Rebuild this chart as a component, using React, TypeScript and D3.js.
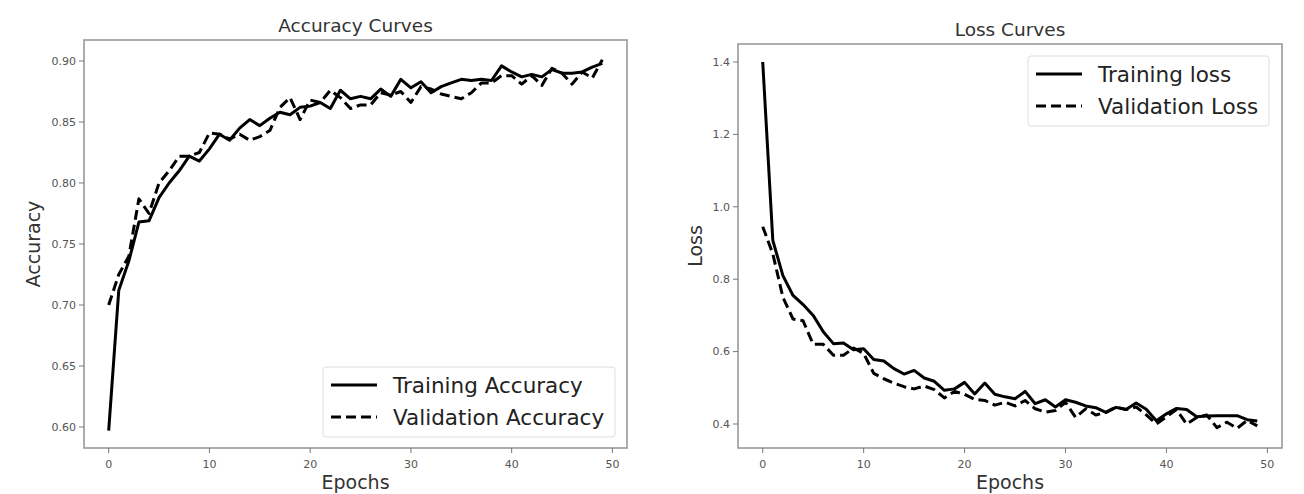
import React from "react";
import * as d3 from "d3";

// epochs 0..49
const epochs = d3.range(50);

const trainAcc = [
  0.597, 0.712, 0.736, 0.768, 0.769, 0.788, 0.8, 0.81, 0.822, 0.818,
  0.828, 0.84, 0.835, 0.845, 0.852, 0.847, 0.853, 0.858, 0.856, 0.862,
  0.863, 0.866, 0.861, 0.876, 0.869, 0.871, 0.869, 0.877, 0.871, 0.885,
  0.878, 0.883, 0.874, 0.879, 0.882, 0.885, 0.884, 0.885, 0.884, 0.896,
  0.891, 0.887, 0.889, 0.887, 0.893, 0.89, 0.89, 0.891, 0.895, 0.898,
];
const valAcc = [
  0.7, 0.725, 0.74, 0.787, 0.775, 0.8, 0.81, 0.822, 0.822, 0.825,
  0.841, 0.84, 0.836, 0.84, 0.835, 0.838, 0.843, 0.862, 0.87, 0.852,
  0.868, 0.866, 0.876, 0.87, 0.861, 0.864, 0.864, 0.874, 0.872, 0.875,
  0.866, 0.879, 0.877, 0.873, 0.871, 0.869, 0.874, 0.882, 0.882, 0.888,
  0.888, 0.881, 0.888, 0.88, 0.894, 0.89, 0.881, 0.891, 0.886, 0.901,
];
const trainLoss = [
  1.4, 0.907, 0.81, 0.755, 0.73, 0.7, 0.655, 0.622, 0.624, 0.605,
  0.608, 0.578, 0.574, 0.553, 0.538, 0.548, 0.527, 0.518, 0.493, 0.497,
  0.515, 0.483, 0.513, 0.482, 0.475, 0.47, 0.49, 0.456, 0.467, 0.447,
  0.467, 0.46, 0.45, 0.445, 0.432, 0.446, 0.44, 0.458, 0.441, 0.409,
  0.428, 0.443, 0.44, 0.42, 0.422, 0.423, 0.423, 0.423, 0.412, 0.408,
];
const valLoss = [
  0.945, 0.87, 0.75, 0.69, 0.685, 0.62, 0.62, 0.59, 0.59, 0.61,
  0.595, 0.54, 0.525, 0.513, 0.503, 0.497, 0.505, 0.495, 0.472, 0.49,
  0.482, 0.468, 0.465, 0.452, 0.46, 0.45, 0.465, 0.442, 0.433, 0.437,
  0.46, 0.418, 0.442, 0.425, 0.432, 0.447, 0.44, 0.447, 0.425, 0.4,
  0.42, 0.44, 0.4, 0.418, 0.425, 0.39, 0.405, 0.388, 0.41, 0.395,
];

const xTicks = [0, 10, 20, 30, 40, 50];
const accTicks = [0.6, 0.65, 0.7, 0.75, 0.8, 0.85, 0.9];
const lossTicks = [0.4, 0.6, 0.8, 1.0, 1.2, 1.4];

const FONT = "DejaVu Sans, sans-serif";

type Series = { label: string; values: number[]; dashed: boolean };

type PanelProps = {
  left: number;
  top: number;
  width: number;
  height: number;
  yDomain: [number, number];
  yTicks: number[];
  yFormat: (v: number) => string;
  title: string;
  yLabel: string;
  yLabelOffset: number;
  series: Series[];
  legend: { x: number; y: number; w: number; h: number };
};

function Panel(p: PanelProps) {
  const x = d3.scaleLinear().domain([-2.45, 51.45]).range([p.left, p.left + p.width]);
  const y = d3.scaleLinear().domain(p.yDomain).range([p.top + p.height, p.top]);
  const line = d3
    .line<number>()
    .x((d, i) => x(epochs[i]))
    .y((d) => y(d));
  const bottom = p.top + p.height;
  const cx = p.left + p.width / 2;

  return (
    <g>
      <text x={cx} y={p.top - 8} textAnchor="middle" fontSize={18.5} fill="#333">
        {p.title}
      </text>
      {p.series.map((s) => (
        <path
          key={s.label}
          d={line(s.values) || ""}
          fill="none"
          stroke="#000"
          strokeWidth={3}
          strokeLinejoin="round"
          strokeDasharray={s.dashed ? "10,5" : undefined}
        />
      ))}
      <rect
        x={p.left}
        y={p.top}
        width={p.width}
        height={p.height}
        fill="none"
        stroke="#999"
        strokeWidth={1.6}
      />
      {xTicks.map((t) => (
        <g key={t}>
          <line x1={x(t)} x2={x(t)} y1={bottom} y2={bottom + 5} stroke="#777" />
          <text x={x(t)} y={bottom + 20} textAnchor="middle" fontSize={11} fill="#555">
            {t}
          </text>
        </g>
      ))}
      {p.yTicks.map((t) => (
        <g key={t}>
          <line x1={p.left - 5} x2={p.left} y1={y(t)} y2={y(t)} stroke="#777" />
          <text
            x={p.left - 8}
            y={y(t)}
            dy="0.35em"
            textAnchor="end"
            fontSize={11}
            fill="#555"
          >
            {p.yFormat(t)}
          </text>
        </g>
      ))}
      <text x={cx} y={bottom + 41} textAnchor="middle" fontSize={19} fill="#333">
        Epochs
      </text>
      <text
        transform={`translate(${p.left - p.yLabelOffset},${p.top + p.height / 2}) rotate(-90)`}
        textAnchor="middle"
        fontSize={19}
        fill="#333"
      >
        {p.yLabel}
      </text>
      <rect
        x={p.legend.x}
        y={p.legend.y}
        width={p.legend.w}
        height={p.legend.h}
        rx={3}
        fill="#fff"
        fillOpacity={0.9}
        stroke="#ddd"
      />
      {p.series.map((s, i) => {
        const ly = p.legend.y + 18 + i * 32;
        return (
          <g key={s.label}>
            <line
              x1={p.legend.x + 8}
              x2={p.legend.x + 54}
              y1={ly}
              y2={ly}
              stroke="#000"
              strokeWidth={3}
              strokeDasharray={s.dashed ? "10,5" : undefined}
            />
            <text x={p.legend.x + 70} y={ly} dy="0.35em" fontSize={21.5} fill="#222">
              {s.label}
            </text>
          </g>
        );
      })}
    </g>
  );
}

export default function App() {
  return (
    <svg
      width={1304}
      height={494}
      style={{ position: "absolute", left: 0, top: 0, background: "#fff" }}
      fontFamily={FONT}
    >
      <Panel
        left={84}
        top={40}
        width={543}
        height={408}
        yDomain={[0.5828, 0.9172]}
        yTicks={accTicks}
        yFormat={d3.format(".2f")}
        title="Accuracy Curves"
        yLabel="Accuracy"
        yLabelOffset={44}
        series={[
          { label: "Training Accuracy", values: trainAcc, dashed: false },
          { label: "Validation Accuracy", values: valAcc, dashed: true },
        ]}
        legend={{ x: 323, y: 367, w: 292, h: 70 }}
      />
      <Panel
        left={738}
        top={44}
        width={544}
        height={404}
        yDomain={[0.3337, 1.4497]}
        yTicks={lossTicks}
        yFormat={d3.format(".1f")}
        title="Loss Curves"
        yLabel="Loss"
        yLabelOffset={36}
        series={[
          { label: "Training loss", values: trainLoss, dashed: false },
          { label: "Validation Loss", values: valLoss, dashed: true },
        ]}
        legend={{ x: 1028, y: 56, w: 241, h: 70 }}
      />
    </svg>
  );
}
